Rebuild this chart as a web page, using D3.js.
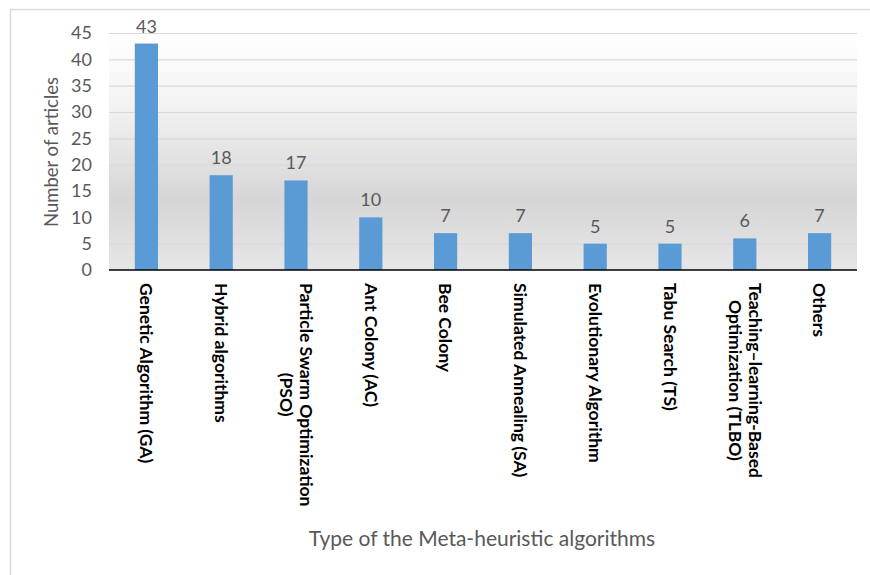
<!DOCTYPE html>
<html>
<head>
<meta charset="utf-8">
<script src="https://cdn.jsdelivr.net/npm/d3@7"></script>
<style>
  body { margin: 0; background: #fff; }
  text { font-family: Lato, 'Noto Sans', sans-serif; }
</style>
</head>
<body>
<div class="graph"></div>
<script>
var categories = [
  ['Genetic Algorithm (GA)'],
  ['Hybrid algorithms'],
  ['Particle Swarm Optimization', '(PSO)'],
  ['Ant Colony (AC)'],
  ['Bee Colony'],
  ['Simulated Annealing (SA)'],
  ['Evolutionary Algorithm'],
  ['Tabu Search (TS)'],
  ['Teaching\u2013learning-Based', 'Optimization (TLBO)'],
  ['Others']
]
var values = [43, 18, 17, 10, 7, 7, 5, 5, 6, 7]
var yTicks = [0, 5, 10, 15, 20, 25, 30, 35, 40, 45]
var yTitle = 'Number of articles'
var xTitle = 'Type of the Meta-heuristic algorithms'

var data = values.map((v, i) => ({lines: categories[i], value: v, i}))

var totalWidth = 870, totalHeight = 575
var margin = {left: 109, right: 13, top: 33, bottom: 305}
var width = totalWidth - margin.left - margin.right
var height = totalHeight - margin.top - margin.bottom

var svg = d3.select('.graph').append('svg')
  .attr('width', totalWidth)
  .attr('height', totalHeight)

// chart frame
svg.append('rect')
  .attr('x', 10.5).attr('y', 9.5)
  .attr('width', 900).attr('height', 600)
  .attr('fill', '#fff')
  .attr('stroke', '#d9d9d9')
  .attr('stroke-width', 1.5)

var grad = svg.append('defs').append('linearGradient')
  .attr('id', 'bg')
  .attr('x1', 0).attr('y1', 0).attr('x2', 0).attr('y2', 1)
grad.selectAll('stop')
  .data([[0, '#ffffff'], [0.3, '#f3f3f3'], [0.7, '#d6d6d6'], [1, '#e6e6e6']])
  .join('stop')
  .attr('offset', d => d[0])
  .attr('stop-color', d => d[1])

var g = svg.append('g').attr('transform', `translate(${margin.left},${margin.top})`)

var x = d3.scaleBand()
  .domain(data.map(d => d.i))
  .range([0, width])
  .paddingInner(0.69)
  .paddingOuter(0.345)

var y = d3.scaleLinear().domain([0, 45]).range([height, 0])

g.append('rect')
  .attr('width', width)
  .attr('height', height)
  .attr('fill', 'url(#bg)')

g.selectAll('line.grid')
  .data(yTicks.filter(d => d > 0))
  .join('line')
  .attr('class', 'grid')
  .attr('x1', 0).attr('x2', width)
  .attr('y1', d => y(d) + .5).attr('y2', d => y(d) + .5)
  .attr('stroke', '#d9d9d9')
  .attr('stroke-width', 1.2)

var yAxis = g.append('g')
  .call(d3.axisLeft(y).tickValues(yTicks).tickSize(0).tickPadding(17))
yAxis.select('.domain').remove()
yAxis.selectAll('text')
  .attr('fill', '#595959')
  .style('font-size', '18px')

g.selectAll('rect.bar')
  .data(data)
  .join('rect')
  .attr('class', 'bar')
  .attr('x', d => x(d.i))
  .attr('width', x.bandwidth())
  .attr('y', d => y(d.value))
  .attr('height', d => y(0) - y(d.value))
  .attr('fill', '#5b9bd5')

g.selectAll('text.val')
  .data(data)
  .join('text')
  .attr('class', 'val')
  .attr('x', d => x(d.i) + x.bandwidth()/2)
  .attr('y', d => y(d.value) - 11)
  .attr('text-anchor', 'middle')
  .attr('fill', '#595959')
  .style('font-size', '18px')
  .text(d => d.value)

g.append('line')
  .attr('x1', 0).attr('x2', width)
  .attr('y1', height).attr('y2', height)
  .attr('stroke', '#000')
  .attr('stroke-width', 1.6)

var lineHeight = 20
var labelSel = g.selectAll('g.cat')
  .data(data)
  .join('g')
  .attr('class', 'cat')
  .attr('transform', d => `translate(${x(d.i) + x.bandwidth()/2},${height + 13}) rotate(90)`)

labelSel.each(function(d){
  var sel = d3.select(this)
  var n = d.lines.length
  var texts = d.lines.map((str, j) => sel.append('text')
    .attr('y', (j - (n - 1)/2)*lineHeight)
    .attr('dy', '.35em')
    .attr('text-anchor', 'middle')
    .attr('fill', '#000')
    .style('font-size', '17.5px')
    .style('font-weight', 700)
    .text(str))
  var maxLen = d3.max(texts, t => t.node().getComputedTextLength())
  texts.forEach(t => t.attr('x', maxLen/2))
})

svg.append('text')
  .attr('transform', `translate(52,${margin.top + 119}) rotate(-90)`)
  .attr('text-anchor', 'middle')
  .attr('dy', '.35em')
  .attr('fill', '#595959')
  .style('font-size', '18.5px')
  .text(yTitle)

svg.append('text')
  .attr('x', 482)
  .attr('y', 546)
  .attr('text-anchor', 'middle')
  .attr('fill', '#595959')
  .style('font-size', '21px')
  .text(xTitle)
</script>
</body>
</html>
